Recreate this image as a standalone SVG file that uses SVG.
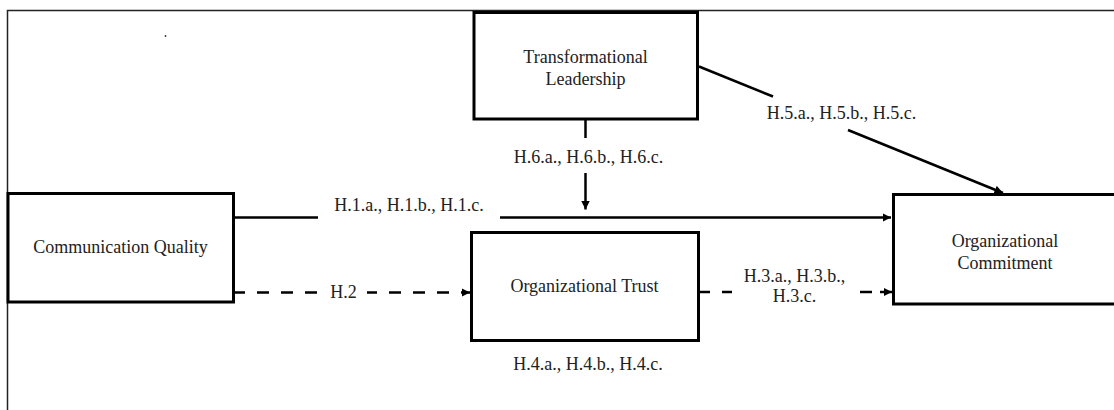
<svg xmlns="http://www.w3.org/2000/svg" width="1114" height="410" viewBox="0 0 1114 410">
<defs>
<marker id="arr" viewBox="0 0 10 10" refX="10" refY="5" markerWidth="3.4" markerHeight="3.4" orient="auto" markerUnits="strokeWidth">
<path d="M0,0 L10,5 L0,10 z" fill="#000"/>
</marker>
<style>
.box{fill:#fff;stroke:#000;stroke-width:3}
.t{font-family:"Liberation Serif","Times New Roman",serif;font-size:18px;fill:#222;text-anchor:middle}
.c{fill:none;stroke:#000;stroke-width:2.5}
.d{stroke-dasharray:12 12}
.frame{fill:none;stroke:#222;stroke-width:1.5}
</style>
</defs>
<rect width="1114" height="410" fill="#fff"/>
<path class="frame" d="M7.5,410 V10.5 H1114"/>
<circle cx="165.5" cy="36" r="0.9" fill="#333"/>
<circle cx="670" cy="244" r="0.9" fill="#333"/>

<g id="connectors">
<path class="c" d="M233,217.5 H318"/>
<path class="c" d="M500,217.5 H891" marker-end="url(#arr)"/>
<path class="c" d="M585.5,119 V138"/>
<path class="c" d="M585.5,173 V209.5" marker-end="url(#arr)"/>
<path class="c" d="M699,66.5 L773,96.5"/>
<path class="c" d="M848,130 L1003,193" marker-end="url(#arr)"/>
<path class="c d" d="M233,292.5 H321"/>
<path class="c d" d="M367,292.5 H470" stroke-dashoffset="2" marker-end="url(#arr)"/>
<path class="c d" d="M698,292 H732"/>
<path class="c" d="M860,292 H872"/>
<path class="c" d="M880,292 H892" marker-end="url(#arr)"/>
</g>

<g id="labels">
<text class="t" x="409" y="211">H.1.a., H.1.b., H.1.c.</text>
<text class="t" x="588.5" y="163">H.6.a., H.6.b., H.6.c.</text>
<text class="t" x="841.5" y="119">H.5.a., H.5.b., H.5.c.</text>
<text class="t" x="343.5" y="298">H.2</text>
<text class="t" x="794.5" y="281.5">H.3.a., H.3.b.,</text>
<text class="t" x="794.5" y="301.5">H.3.c.</text>
<text class="t" x="588" y="370">H.4.a., H.4.b., H.4.c.</text>
</g>

<g id="node-tl">
<rect class="box" x="474" y="12.5" width="223.5" height="106.5"/>
<text class="t" x="585.5" y="63">Transformational</text>
<text class="t" x="585.5" y="85">Leadership</text>
</g>

<g id="node-cq">
<rect class="box" x="8" y="193.5" width="225.5" height="108.5"/>
<text class="t" x="120.5" y="252.5">Communication Quality</text>
</g>

<g id="node-ot">
<rect class="box" x="471.5" y="232.5" width="227" height="108"/>
<text class="t" x="584.5" y="291.5">Organizational Trust</text>
</g>

<g id="node-oc">
<rect class="box" x="893.5" y="194.5" width="240" height="109.5"/>
<text class="t" x="1005" y="246.5">Organizational</text>
<text class="t" x="1005" y="268.5">Commitment</text>
</g>
</svg>
